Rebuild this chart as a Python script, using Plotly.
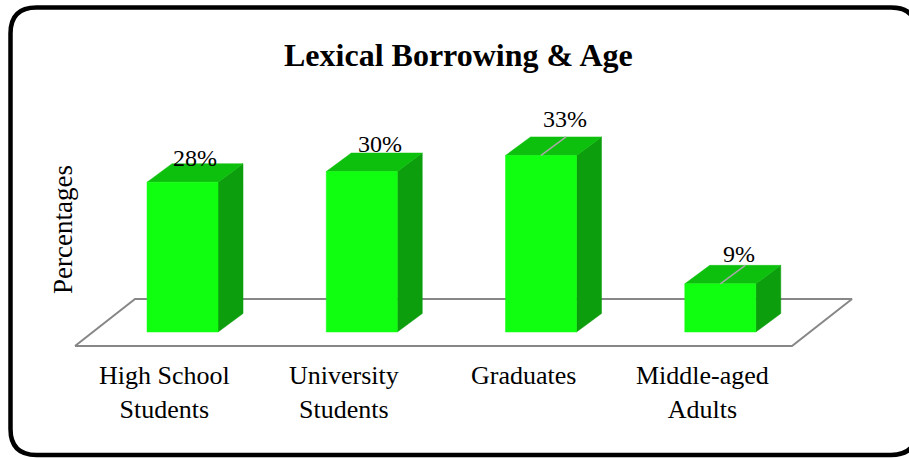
import plotly.graph_objects as go

# ---- data -------------------------------------------------------------
categories = ["High School<br>Students", "University<br>Students", "Graduates", "Middle-aged<br>Adults"]
values = [28, 30, 33, 9]
title_text = "Lexical Borrowing & Age"
axis_title = "Percentages"

# ---- styling / layout constants ----------------------------------------
W, H = 909, 459
PX_CAT = 179.25        # pixels per category slot
PX_PCT = 5.35          # pixels per percentage point
ORIGIN_X = 75          # pixel x of the floor's front-left corner
ORIGIN_Y = 332         # pixel y of the bars' base (value 0)

FONT = "Liberation Serif, Times New Roman, serif"
FRONT = "#10FF10"
TOP = "#0DC00D"
SIDE = "#0C9E0C"
FLOOR_LINE = "#878787"
LEADER = "#A8A8A8"

# oblique-projection offsets, expressed in axis units
floor_front_y = -14 / PX_PCT
floor_dx, floor_dy = 60 / PX_CAT, 47 / PX_PCT
bar_shift = 17.9 / PX_CAT
bar_half = 35.5 / PX_CAT
bar_dx, bar_dy = 25 / PX_CAT, 18.5 / PX_PCT

# label nudges in screen pixels (right, up) relative to the bar's top-front centre
label_nudge = [(12.5, 24), (18.5, 28), (23.5, 36), (19, 30)]
show_leader = [False, False, True, True]

fig = go.Figure()


def poly(xs, ys, fill, line=None, width=0):
    fig.add_trace(go.Scatter(
        x=xs + [xs[0]], y=ys + [ys[0]], mode="lines",
        fill="toself" if fill else "none", fillcolor=fill,
        line=dict(color=line or fill or "rgba(0,0,0,0)", width=width),
        hoverinfo="skip", showlegend=False))


# floor
n = len(categories)
fx = [0, n, n + floor_dx, floor_dx]
fy = [floor_front_y, floor_front_y, floor_front_y + floor_dy, floor_front_y + floor_dy]
poly(fx, fy, None, line=FLOOR_LINE, width=2)

# bars
annotations = []
for i, (cat, v) in enumerate(zip(categories, values)):
    c = i + 0.5 + bar_shift
    l, r = c - bar_half, c + bar_half
    poly([r, r + bar_dx, r + bar_dx, r], [0, bar_dy, v + bar_dy, v], SIDE, width=0.5)
    poly([l, r, r + bar_dx, l + bar_dx], [v, v, v + bar_dy, v + bar_dy], TOP, width=0.5)
    poly([l, r, r, l], [0, 0, v, v], FRONT, width=0.5)
    if show_leader[i]:
        fig.add_trace(go.Scatter(x=[c, c + bar_dx], y=[v, v + bar_dy], mode="lines",
                                 line=dict(color=LEADER, width=1.5),
                                 hoverinfo="skip", showlegend=False))
    nx, ny = label_nudge[i]
    annotations.append(dict(x=c, y=v, xref="x", yref="y", text=f"{v}%",
                            showarrow=False, xshift=nx, yshift=ny,
                            xanchor="center", yanchor="middle",
                            font=dict(family=FONT, size=24, color="black")))
    # category label under the floor's front edge
    annotations.append(dict(x=i + 0.5, y=floor_front_y, xref="x", yref="y",
                            text=cat, showarrow=False,
                            xanchor="center", yanchor="top", yshift=-13,
                            font=dict(family=FONT, size=26, color="black")))

annotations.append(dict(x=458.5 / W, y=1 - 55 / H, xref="paper", yref="paper",
                        text=f"<b>{title_text}</b>", showarrow=False,
                        xanchor="center", yanchor="middle",
                        font=dict(family=FONT, size=32, color="black")))
annotations.append(dict(x=63 / W, y=1 - 230 / H, xref="paper", yref="paper",
                        text=axis_title, textangle=-90, showarrow=False,
                        xanchor="center", yanchor="middle",
                        font=dict(family=FONT, size=27, color="black")))

# rounded outer frame (pixel coordinates converted to paper units)
L, T, R, B, rad = 10.5, 7.5, 917, 455, 26


def px(x):
    return x / W


def py(y):
    return 1 - y / H


frame = (f"M {px(L + rad)},{py(T)} L {px(R - rad)},{py(T)} "
         f"Q {px(R)},{py(T)} {px(R)},{py(T + rad)} "
         f"L {px(R)},{py(B - rad)} Q {px(R)},{py(B)} {px(R - rad)},{py(B)} "
         f"L {px(L + rad)},{py(B)} Q {px(L)},{py(B)} {px(L)},{py(B - rad)} "
         f"L {px(L)},{py(T + rad)} Q {px(L)},{py(T)} {px(L + rad)},{py(T)} Z")

fig.update_layout(
    width=W, height=H, autosize=False,
    margin=dict(l=0, r=0, t=0, b=0),
    paper_bgcolor="white", plot_bgcolor="white",
    xaxis=dict(range=[(0 - ORIGIN_X) / PX_CAT, (W - ORIGIN_X) / PX_CAT],
               visible=False, fixedrange=True),
    yaxis=dict(range=[(ORIGIN_Y - H) / PX_PCT, ORIGIN_Y / PX_PCT],
               visible=False, fixedrange=True),
    annotations=annotations,
    shapes=[dict(type="path", path=frame, xref="paper", yref="paper",
                 line=dict(color="black", width=4.5))],
    showlegend=False,
)

fig.write_html("out.html", config={"displayModeBar": False})
